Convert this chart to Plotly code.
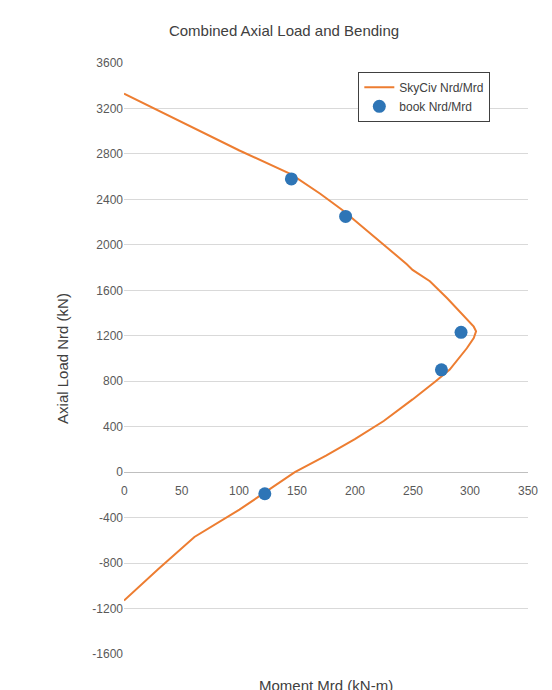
import plotly.graph_objects as go

# SkyCiv interaction curve
sky_m = [0, 50, 100, 145, 170, 190, 210, 230, 245, 250, 265, 280, 295, 303, 305,
         303, 297, 290, 282, 270, 250, 225, 200, 175, 148, 100, 61, 30, 0]
sky_n = [3330, 3080, 2830, 2620, 2450, 2300, 2130, 1960, 1830, 1780, 1680, 1530, 1370, 1280, 1240,
         1180, 1090, 1000, 900, 800, 640, 450, 290, 145, 0, -330, -570, -850, -1130]

# book values
book_m = [145, 192, 292, 275, 122]
book_n = [2580, 2250, 1230, 900, -190]

x_ticks = [0, 50, 100, 150, 200, 250, 300, 350]
y_ticks = list(range(-1600, 3601, 400))

fig = go.Figure()
fig.add_trace(go.Scatter(x=sky_m, y=sky_n, mode='lines', name='SkyCiv Nrd/Mrd',
                         line=dict(color='#ED7D31', width=2)))
fig.add_trace(go.Scatter(x=book_m, y=book_n, mode='markers', name='book Nrd/Mrd',
                         marker=dict(color='#2E75B6', size=13)))

for t in x_ticks:
    fig.add_annotation(x=t, y=0, text=str(t), showarrow=False, yshift=-19,
                       font=dict(size=12, color='#595959'))

fig.add_annotation(x=0.5, y=-0.035, xref='paper', yref='paper', text='Moment Mrd (kN-m)',
                   showarrow=False, yanchor='top', font=dict(size=15, color='#404040'))

fig.update_layout(
    width=552, height=690,
    margin=dict(l=116, r=32, t=55, b=44, autoexpand=False),
    paper_bgcolor='white', plot_bgcolor='white',
    font=dict(family='Liberation Sans, Arial', color='#595959'),
    title=dict(text='Combined Axial Load and Bending', x=0.5, xanchor='center', y=0.975,
               font=dict(size=15, color='#404040')),
    xaxis=dict(range=[0, 350], showticklabels=False, showgrid=False, zeroline=False,
               showline=False),
    yaxis=dict(range=[-1600, 3600], tickvals=y_ticks, ticktext=[str(v) for v in y_ticks],
               showgrid=True, gridcolor='#D9D9D9', automargin=False,
               zeroline=True, zerolinecolor='#BFBFBF', zerolinewidth=1,
               tickfont=dict(size=12), ticks='',
               title=dict(text='Axial Load Nrd (kN)', standoff=20,
                          font=dict(size=15, color='#404040'))),
    legend=dict(x=0.58, y=0.985, xanchor='left', yanchor='top', bordercolor='#404040',
                borderwidth=1, bgcolor='white', font=dict(size=12, color='#404040')),
    showlegend=True,
)

fig.write_html("out.html")
